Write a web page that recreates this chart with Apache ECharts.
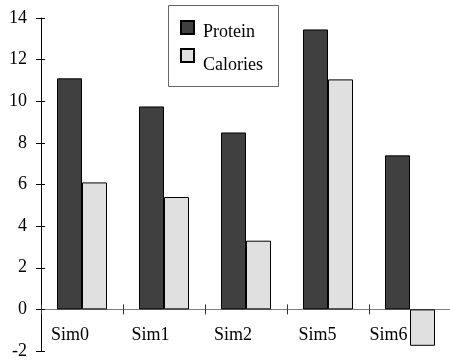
<!DOCTYPE html>
<html>
<head>
<meta charset="utf-8">
<script src="https://cdn.jsdelivr.net/npm/echarts@6/dist/echarts.min.js"></script>
<style>
html,body{margin:0;padding:0;background:#fff;}
#chart{width:450px;height:362px;}
</style>
</head>
<body>
<div id="chart"></div>
<script>
const categories = ['Sim0', 'Sim1', 'Sim2', 'Sim5', 'Sim6'];
const protein = [11.1, 9.75, 8.5, 13.45, 7.4];
const calories = [6.1, 5.4, 3.3, 11.05, -1.75];
const yMin = -2, yMax = 14, yStep = 2;

const FONT = "'Liberation Serif', 'Times New Roman', serif";
const GRID = { left: 41, top: 18, width: 410, height: 333 };
// place the category axis on the value 0 line
const zeroOffset = -GRID.height * (0 - yMin) / (yMax - yMin);

const labelShift = [24, 27, 26, 21, 43];
const rich = {};
labelShift.forEach((p, i) => {
  rich['s' + i] = { fontFamily: FONT, fontSize: 18, color: '#000', padding: [0, p, 0, 0] };
});

const chart = echarts.init(document.getElementById('chart'), null, { renderer: 'canvas' });
chart.setOption({
  backgroundColor: '#fff',
  animation: false,
  textStyle: { fontFamily: FONT },
  grid: Object.assign({ containLabel: false, outerBoundsMode: 'none' }, GRID),
  graphic: [{
    type: 'rect',
    shape: { x: 168.5, y: 5.5, width: 110, height: 81 },
    style: { fill: '#fff', stroke: '#666', lineWidth: 1 },
    z: 10
  }],
  legend: [{
    data: ['Protein'],
    left: 180, top: 20,
    orient: 'vertical',
    padding: 0,
    itemWidth: 13, itemHeight: 13,
    icon: 'rect',
    z: 20,
    formatter: '{p|{name}}',
    textStyle: {
      fontFamily: FONT, fontSize: 18, color: '#000',
      rich: { p: { fontFamily: FONT, fontSize: 18, color: '#000', padding: [9, 0, 0, 4] } }
    }
  }, {
    data: ['Calories'],
    left: 180, top: 48,
    orient: 'vertical',
    padding: 0,
    itemWidth: 13, itemHeight: 13,
    icon: 'rect',
    z: 20,
    formatter: '{c|{name}}',
    textStyle: {
      fontFamily: FONT, fontSize: 18, color: '#000',
      rich: { c: { fontFamily: FONT, fontSize: 18, color: '#000', padding: [19, 0, 0, 4] } }
    }
  }],
  xAxis: [{
    type: 'category',
    data: categories,
    position: 'bottom',
    offset: zeroOffset,
    axisLine: { onZero: false, lineStyle: { color: '#808080', width: 1 } },
    axisTick: { show: true, inside: false, length: 5, lineStyle: { color: '#333' } },
    axisLabel: {
      margin: 17,
      interval: 0,
      formatter: (v, i) => '{s' + i + '|' + v + '}',
      rich: rich
    },
    splitLine: { show: false }
  }, {
    type: 'category',
    data: categories,
    position: 'bottom',
    offset: zeroOffset,
    axisLine: { onZero: false, show: false },
    axisTick: { show: true, inside: true, length: 5, lineStyle: { color: '#333' } },
    axisLabel: { show: false },
    splitLine: { show: false }
  }],
  yAxis: [{
    type: 'value',
    min: yMin, max: yMax, interval: yStep,
    position: 'left',
    axisLine: { show: true, onZero: false, lineStyle: { color: '#000', width: 1 } },
    axisTick: { show: true, inside: false, length: 5, lineStyle: { color: '#000' } },
    axisLabel: { margin: 14, fontFamily: FONT, fontSize: 18, color: '#000', padding: [5, 0, 0, 0] },
    splitLine: { show: false }
  }, {
    type: 'value',
    min: yMin, max: yMax, interval: yStep,
    position: 'left',
    axisLine: { show: false, onZero: false },
    axisTick: { show: true, inside: true, length: 4, lineStyle: { color: '#000' } },
    axisLabel: { show: false },
    splitLine: { show: false }
  }],
  series: [{
    name: 'Protein',
    type: 'bar',
    data: protein,
    barWidth: 25,
    barGap: '0%',
    itemStyle: { color: '#404040', borderColor: '#000', borderWidth: 1 }
  }, {
    name: 'Calories',
    type: 'bar',
    data: calories,
    barWidth: 25,
    barGap: '0%',
    itemStyle: { color: '#e0e0e0', borderColor: '#000', borderWidth: 1 }
  }]
});
</script>
</body>
</html>
